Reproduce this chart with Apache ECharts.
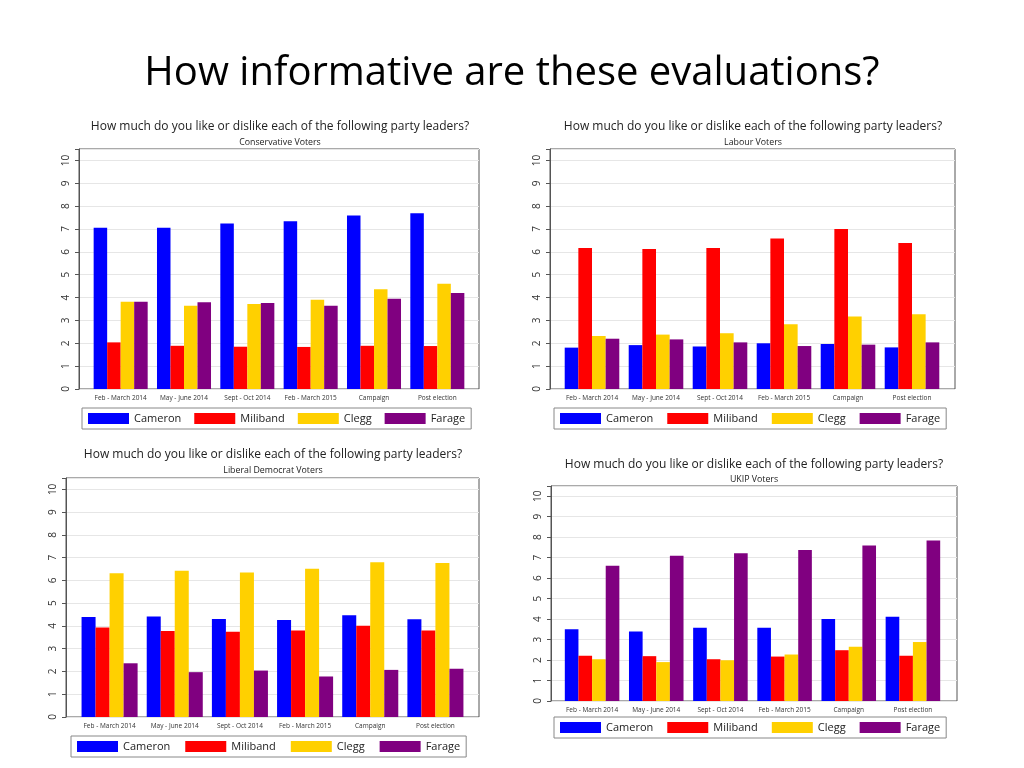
<!DOCTYPE html>
<html><head><meta charset="utf-8">
<script src="https://cdn.jsdelivr.net/npm/echarts@6/dist/echarts.min.js"></script>
<style>html,body{margin:0;padding:0;background:#fff}#c{width:1024px;height:768px}</style>
</head><body><div id="c"></div>
<script>
const mainTitle = "How informative are these evaluations?";
const panelQuestion = "How much do you like or dislike each of the following party leaders?";
const categories = ["Feb - March 2014","May - June 2014","Sept - Oct 2014","Feb - March 2015","Campaign","Post election"];
const leaders = ["Cameron","Miliband","Clegg","Farage"];
const leaderColors = ["#0000FF","#FF0000","#FFD000","#800080"];
const yTicks = [0,1,2,3,4,5,6,7,8,9,10];

const panelNames = ["Conservative Voters","Labour Voters","Liberal Democrat Voters","UKIP Voters"];

// Conservative voters
const conCameron  = [7.06,7.06,7.24,7.34,7.59,7.69];
const conMiliband = [2.04,1.89,1.85,1.84,1.89,1.88];
const conClegg    = [3.82,3.64,3.72,3.91,4.36,4.61];
const conFarage   = [3.82,3.79,3.76,3.64,3.95,4.20];
// Labour voters
const labCameron  = [1.81,1.92,1.86,2.00,1.97,1.82];
const labMiliband = [6.17,6.12,6.17,6.58,7.00,6.39];
const labClegg    = [2.32,2.38,2.44,2.83,3.17,3.27];
const labFarage   = [2.20,2.17,2.04,1.88,1.94,2.04];
// Liberal Democrat voters
const ldCameron   = [4.39,4.42,4.31,4.26,4.47,4.29];
const ldMiliband  = [3.93,3.78,3.74,3.80,4.01,3.80];
const ldClegg     = [6.31,6.42,6.35,6.51,6.80,6.77];
const ldFarage    = [2.36,1.97,2.04,1.78,2.07,2.12];
// UKIP voters
const ukCameron   = [3.51,3.40,3.58,3.58,4.00,4.12];
const ukMiliband  = [2.21,2.19,2.04,2.17,2.48,2.21];
const ukClegg     = [2.04,1.90,1.99,2.27,2.65,2.88];
const ukFarage    = [6.60,7.09,7.22,7.37,7.60,7.84];

const panelData = [
  [conCameron, conMiliband, conClegg, conFarage],
  [labCameron, labMiliband, labClegg, labFarage],
  [ldCameron, ldMiliband, ldClegg, ldFarage],
  [ukCameron, ukMiliband, ukClegg, ukFarage]
];

// layout: outer plot box and inner category band
const boxes = [
  {left:79, top:149, width:400, height:240, inL:89,  inW:380, gap:'14.7%'},
  {left:550, top:149, width:405, height:240, inL:560, inW:384, gap:'14.7%'},
  {left:66, top:478, width:413, height:239, inL:77,  inW:391, gap:'14%'},
  {left:551, top:486, width:406, height:215, inL:560, inW:385, gap:'15%'}
];
const titlePos = [
  {x:280, y:127, sy:142},
  {x:753, y:127, sy:142},
  {x:273, y:455, sy:470},
  {x:754, y:465, sy:479}
];
const legendPos = [
  {left:82, top:408, gap:13},
  {left:554, top:408, gap:14},
  {left:71, top:736, gap:15},
  {left:554, top:717, gap:14}
];
const FONT = "'Open Sans', sans-serif";

const option = {
  animation:false,
  backgroundColor:'#fff',
  textStyle:{fontFamily:FONT},
  grid:[], xAxis:[], yAxis:[], series:[], legend:[],
  graphic:[]
};

option.graphic.push({type:'text', left:'center', top:54,
  style:{text:mainTitle, font:"40px "+FONT, fill:'#000'}});

boxes.forEach((b,i)=>{
  const o = 2*i, n = 2*i+1;
  // outer frame with y axis
  option.grid.push({left:b.left, top:b.top, width:b.width, height:b.height,
    show:true, borderColor:'#555', borderWidth:1, backgroundColor:'#fff'});
  // inner band for the categories
  option.grid.push({left:b.inL, top:b.top, width:b.inW, height:b.height});
  option.xAxis.push({type:'value', gridIndex:o, min:0, max:1, show:false});
  option.yAxis.push({type:'value', gridIndex:o, min:0, max:10.5, interval:1,
    axisLine:{show:true, lineStyle:{color:'#555'}},
    axisTick:{show:true, length:4, lineStyle:{color:'#555'}},
    splitLine:{show:true, lineStyle:{color:'#e6e6e6'}},
    axisLabel:{rotate:90, fontSize:10, color:'#333', margin:8,
      formatter:(v)=> yTicks.indexOf(v)>=0 ? String(v) : ''}});
  option.xAxis.push({type:'category', gridIndex:n, data:categories,
    axisLine:{show:false}, axisTick:{show:false},
    axisLabel:{fontSize:6.5, color:'#333', margin:6, interval:0}});
  option.yAxis.push({type:'value', gridIndex:n, min:0, max:10.5, interval:1, show:false,
    splitLine:{show:false}});
  leaders.forEach((name,k)=>{
    option.series.push({type:'bar', name:name, xAxisIndex:n, yAxisIndex:n,
      data:panelData[i][k], barGap:'0%', barCategoryGap:b.gap,
      itemStyle:{color:leaderColors[k]}});
  });
  option.legend.push({left:legendPos[i].left, top:legendPos[i].top, orient:'horizontal',
    data:leaders, itemWidth:41, itemHeight:11, itemGap:legendPos[i].gap,
    padding:[5,6], borderColor:'#888', borderWidth:1, icon:'rect',
    textStyle:{fontSize:11, color:'#222', fontFamily:FONT}});
  option.graphic.push({type:'text', x:titlePos[i].x, y:titlePos[i].y,
    style:{text:panelQuestion, font:"12px "+FONT, fill:'#222', textAlign:'center', textVerticalAlign:'middle'}});
  option.graphic.push({type:'text', x:titlePos[i].x, y:titlePos[i].sy,
    style:{text:panelNames[i], font:"8.8px "+FONT, fill:'#222', textAlign:'center', textVerticalAlign:'middle'}});
});

const chart = echarts.init(document.getElementById('c'));
chart.setOption(option);
</script>
</body></html>
